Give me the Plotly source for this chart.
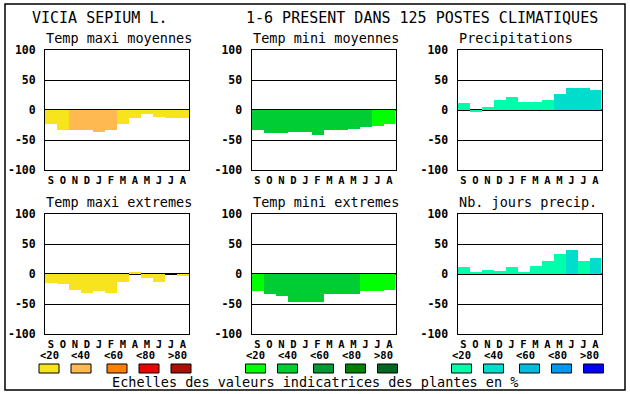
import plotly.graph_objects as go

W, H = 630, 394

months = ["S", "O", "N", "D", "J", "F", "M", "A", "M", "J", "J", "A"]
yticks = [-100, -50, 0, 50, 100]

panel_titles = ["Temp maxi moyennes", "Temp mini moyennes", "Precipitations",
                "Temp maxi extremes", "Temp mini extremes", "Nb. jours precip."]

tmax_moy = [-23, -33, -34, -34, -36, -34, -24, -14, -6, -12, -13, -14]
tmin_moy = [-33, -38, -38, -36, -36, -41, -34, -33, -31, -28, -26, -24]
precip = [12, -3, 5, 17, 21, 14, 14, 16, 26, 36, 37, 34]
tmax_ext = [-15, -16, -26, -31, -28, -31, -13, 4, -6, -13, 0, -4]
tmin_ext = [-28, -34, -36, -46, -46, -46, -34, -34, -33, -28, -28, -26]
jours = [12, 2, 7, 5, 12, 3, 13, 22, 33, 40, 22, 27]

# colour class (0: <20, 1: <40, 2: <60, 3: <80, 4: >80)
tmax_moy_cls = [0, 0, 1, 1, 1, 1, 0, 0, 0, 0, 0, 0]
tmin_moy_cls = [1, 1, 1, 1, 1, 1, 1, 1, 1, 1, 0, 0]
precip_cls = [0, 0, 0, 0, 0, 0, 0, 0, 1, 1, 1, 1]
tmax_ext_cls = [0, 0, 0, 0, 0, 0, 0, 0, 0, 0, 0, 0]
tmin_ext_cls = [0, 1, 1, 1, 1, 1, 1, 1, 1, 0, 0, 0]
jours_cls = [0, 0, 0, 0, 0, 0, 0, 0, 0, 1, 0, 1]

legend_labels = ["<20", "<40", "<60", "<80", ">80"]
pal_warm = ["#f8e41c", "#ffb950", "#ff7f00", "#ee0000", "#aa1100"]
pal_green = ["#00ff00", "#00cc33", "#009933", "#008000", "#006622"]
pal_blue = ["#00ffaa", "#00ddcc", "#00bbdd", "#0099ee", "#0000ff"]

caption = "Echelles des valeurs indicatrices des plantes en %"
title_left = "VICIA SEPIUM L."
title_right = "1-6 PRESENT DANS 125 POSTES CLIMATIQUES"

FONT = "DejaVu Sans Mono"

panels = [
    (tmax_moy, tmax_moy_cls, pal_warm),
    (tmin_moy, tmin_moy_cls, pal_green),
    (precip, precip_cls, pal_blue),
    (tmax_ext, tmax_ext_cls, pal_warm),
    (tmin_ext, tmin_ext_cls, pal_green),
    (jours, jours_cls, pal_blue),
]

col_x = [(45, 189), (251.5, 395.5), (457.5, 601.5)]
row_y = [(50, 170), (214, 334)]


def px(x):
    return x / W


def py(y):
    return 1 - y / H


fig = go.Figure()
annotations = []
shapes = []

for i, (vals, cls, pal) in enumerate(panels):
    r, c = divmod(i, 3)
    n = i + 1
    xa = "x" if n == 1 else f"x{n}"
    ya = "y" if n == 1 else f"y{n}"
    fig.add_trace(go.Bar(
        x=list(range(len(months))), y=vals,
        marker=dict(color=[pal[k] for k in cls], line=dict(width=0)),
        width=1.0, xaxis=xa, yaxis=ya, showlegend=False, hoverinfo="skip",
    ))
    x0, x1 = col_x[c]
    y0, y1 = row_y[r]
    tick_font = dict(family=FONT, size=10.5, color="black", weight="bold")
    fig.layout[f"xaxis{'' if n == 1 else n}"] = dict(
        domain=[px(x0), px(x1)], anchor=ya, range=[-0.5, 11.5],
        tickvals=list(range(12)), ticktext=months, tickfont=tick_font,
        showgrid=False, zeroline=False, showline=True, mirror=True,
        linecolor="black", linewidth=1, ticks="", fixedrange=True,
        automargin=False, tickangle=0,
    )
    fig.layout[f"yaxis{'' if n == 1 else n}"] = dict(
        domain=[py(y1), py(y0)], anchor=xa, range=[-100, 100],
        tickvals=yticks, ticktext=[str(v) for v in yticks],
        tickfont=dict(family=FONT, size=11.5, color="black", weight="bold"),
        showgrid=True, gridcolor="black", gridwidth=1,
        zeroline=True, zerolinecolor="black", zerolinewidth=1.5,
        showline=True, mirror=True, linecolor="black", linewidth=1,
        ticks="", layer="above traces", fixedrange=True,
        ticklabelstandoff=6, automargin=False,
    )
    annotations.append(dict(
        text=panel_titles[i], x=px(x0 - 1), y=py(y0 - 12), xref="paper", yref="paper",
        xanchor="left", yanchor="middle", showarrow=False,
        font=dict(family=FONT, size=13.5, color="black"),
    ))
    # legend under bottom row
    if r == 1:
        gx = x0 - 6
        lab_off = [0, 32, 64, 96, 128]
        sw_off = [0, 32, 68, 100, 132]
        for k in range(5):
            annotations.append(dict(
                text=legend_labels[k], x=px(gx + lab_off[k] + 10), y=py(355),
                xref="paper", yref="paper", xanchor="center", yanchor="middle",
                showarrow=False, font=dict(family=FONT, size=10.5, color="black", weight="bold"),
            ))
            shapes.append(dict(
                type="rect", xref="paper", yref="paper",
                x0=px(gx + sw_off[k]), x1=px(gx + sw_off[k] + 20),
                y0=py(373), y1=py(364),
                fillcolor=pal[k], line=dict(color="black", width=1),
            ))

annotations.append(dict(
    text=title_left, x=px(30), y=py(18), xref="paper", yref="paper",
    xanchor="left", yanchor="middle", showarrow=False,
    font=dict(family=FONT, size=15, color="black"),
))
annotations.append(dict(
    text=title_right, x=px(244), y=py(18), xref="paper", yref="paper",
    xanchor="left", yanchor="middle", showarrow=False,
    font=dict(family=FONT, size=15, color="black"),
))
annotations.append(dict(
    text=caption, x=px(315), y=py(382), xref="paper", yref="paper",
    xanchor="center", yanchor="middle", showarrow=False,
    font=dict(family=FONT, size=13.5, color="black"),
))

shapes.append(dict(
    type="rect", xref="paper", yref="paper",
    x0=px(5), x1=px(625), y0=py(390), y1=py(4),
    line=dict(color="black", width=1.5), fillcolor="rgba(0,0,0,0)",
))

fig.update_layout(
    width=W, height=H, margin=dict(l=0, r=0, t=0, b=0, pad=0),
    paper_bgcolor="white", plot_bgcolor="white",
    bargap=0, annotations=annotations, shapes=shapes,
    font=dict(family=FONT, color="black"),
    template="none",
)

fig.write_html(
    "out.html",
    config={"displayModeBar": False},
    post_script="document.body.style.margin='0';document.body.style.overflow='hidden';",
)
